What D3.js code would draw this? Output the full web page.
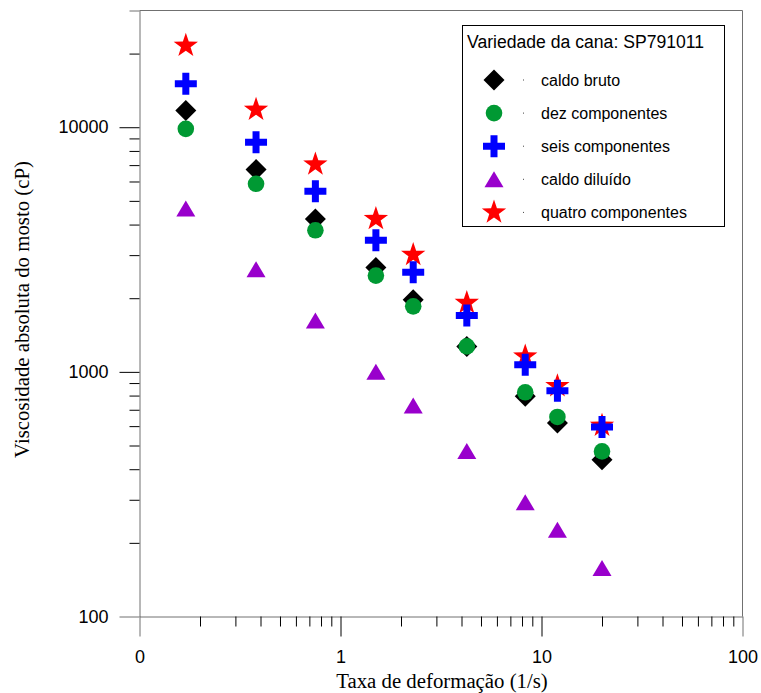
<!DOCTYPE html>
<html>
<head>
<meta charset="utf-8">
<script src="https://cdn.jsdelivr.net/npm/d3@7"></script>
<style>
  html, body { margin: 0; padding: 0; background: #fff; }
  svg { display: block; }
</style>
</head>
<body>
<svg id="chart" width="761" height="693"></svg>
<script>
// ---- data ----
const shearRates = [0.17, 0.38, 0.75, 1.5, 2.3, 4.25, 8.3, 12, 20];
const caldoBruto = [11700, 6710, 4220, 2670, 1970, 1271, 794, 618, 437];
const dezComponentes = [9850, 5870, 3790, 2475, 1853, 1271, 825, 654, 473];
const seisComponentes = [15050, 8685, 5470, 3450, 2553, 1698, 1070, 838, 595];
const caldoDiluido = [4650, 2627, 1623, 1002, 729, 475, 293, 226, 158];
const quatroComponentes = [21550, 11800, 7050, 4220, 3010, 1915, 1157, 875, 603];
const seriesNames = ["caldo bruto", "dez componentes", "seis componentes", "caldo diluído", "quatro componentes"];
const legendTitle = "Variedade da cana: SP791011";
const xMajorTicks = [0.1, 1, 10, 100];
const xTickLabels = ["0", "1", "10", "100"];
const yMajorTicks = [100, 1000, 10000];
const yTickLabels = ["100", "1000", "10000"];
const xTitle = "Taxa de deformação (1/s)";
const yTitle = "Viscosidade absoluta do mosto (cP)";

(function () {
// ---- setup ----
const svg = d3.select("#chart");
const pLeft = 139.5, pRight = 742.5, pTop = 10.5, pBottom = 616.5;
const x = d3.scaleLog().domain([0.1, 100]).range([pLeft, pRight]);
const y = d3.scaleLog().domain([100, 30000]).range([pBottom, pTop]);

const sansFont = "'Liberation Sans', Arial, sans-serif";
const serifFont = "'Liberation Serif', 'Times New Roman', serif";

function minorTicks(scale) {
  const [a, b] = scale.domain();
  const out = [];
  for (let d = a; d < b * 0.999; d *= 10) {
    for (let k = 2; k <= 9; k++) { const v = d * k; if (v <= b * 1.0001) out.push(v); }
  }
  return out;
}

const axisColor = "#707070";

// frame (top and right)
svg.append("line").attr("x1", pLeft).attr("x2", pRight).attr("y1", pTop).attr("y2", pTop)
  .attr("stroke", axisColor).attr("stroke-width", 1);
svg.append("line").attr("x1", pRight).attr("x2", pRight).attr("y1", pTop).attr("y2", pBottom)
  .attr("stroke", axisColor).attr("stroke-width", 1);

// x axis minor
svg.append("g").attr("transform", `translate(0,${pBottom})`)
  .call(d3.axisBottom(x).tickValues(minorTicks(x)).tickSize(10).tickSizeOuter(0).tickFormat(""))
  .call(g => g.select(".domain").attr("stroke", axisColor))
  .call(g => g.selectAll(".tick line").attr("stroke", "#000"));
// x axis major
svg.append("g").attr("transform", `translate(0,${pBottom})`)
  .call(d3.axisBottom(x).tickValues(xMajorTicks).tickSize(20).tickSizeOuter(0)
    .tickFormat((d, i) => xTickLabels[i]).tickPadding(14))
  .call(g => g.select(".domain").remove())
  .call(g => g.selectAll(".tick line").attr("stroke", (d, i) => (i === 0 || i === xMajorTicks.length - 1) ? axisColor : "#000"))
  .call(g => g.selectAll(".tick text").attr("font-family", sansFont).attr("font-size", 18).attr("fill", "#000"));

// y axis minor
svg.append("g").attr("transform", `translate(${pLeft},0)`)
  .call(d3.axisLeft(y).tickValues(minorTicks(y)).tickSize(10).tickSizeOuter(0).tickFormat(""))
  .call(g => g.select(".domain").attr("stroke", axisColor))
  .call(g => g.selectAll(".tick line").attr("stroke", (d) => d === 30000 ? axisColor : "#000"));
// y axis major
svg.append("g").attr("transform", `translate(${pLeft},0)`)
  .call(d3.axisLeft(y).tickValues(yMajorTicks).tickSize(20).tickSizeOuter(0)
    .tickFormat((d, i) => yTickLabels[i]).tickPadding(11))
  .call(g => g.select(".domain").remove())
  .call(g => g.selectAll(".tick line").attr("stroke", (d, i) => i === 0 ? axisColor : "#000"))
  .call(g => g.selectAll(".tick text").attr("font-family", sansFont).attr("font-size", 18).attr("fill", "#000"));

// axis titles
svg.append("text").attr("x", (pLeft + pRight) / 2 + 1).attr("y", 688)
  .attr("text-anchor", "middle").attr("font-family", serifFont).attr("font-size", 20.8)
  .attr("fill", "#000").text(xTitle);
svg.append("text").attr("transform", `translate(29,${(pTop + pBottom) / 2 - 4}) rotate(-90)`)
  .attr("text-anchor", "middle").attr("font-family", serifFont).attr("font-size", 20.8)
  .attr("fill", "#000").text(yTitle);

// ---- symbols ----
function starPath(R, rr) {
  const pts = [];
  for (let i = 0; i < 10; i++) {
    const a = -Math.PI / 2 + i * Math.PI / 5;
    const r = i % 2 === 0 ? R : rr;
    pts.push([r * Math.cos(a), r * Math.sin(a)]);
  }
  return "M" + pts.map(p => p[0].toFixed(2) + "," + p[1].toFixed(2)).join("L") + "Z";
}
const shapes = {
  diamond: "M0,-10.5L10.5,0L0,10.5L-10.5,0Z",
  circle: d3.symbol().type(d3.symbolCircle).size(Math.PI * 8.3 * 8.3)(),
  plus: "M-3.5,-11H3.5V-3.5H11V3.5H3.5V11H-3.5V3.5H-11V-3.5H-3.5Z",
  triangle: "M0,-8L9.5,8L-9.5,8Z",
  star: starPath(12.8, 5.0)
};

const seriesList = [
  { name: seriesNames[0], values: caldoBruto, shape: "diamond", color: "#000000" },
  { name: seriesNames[1], values: dezComponentes, shape: "circle", color: "#009933" },
  { name: seriesNames[2], values: seisComponentes, shape: "plus", color: "#0000ff" },
  { name: seriesNames[3], values: caldoDiluido, shape: "triangle", color: "#9900cc" },
  { name: seriesNames[4], values: quatroComponentes, shape: "star", color: "#ff0000" }
];

// draw order: star, plus, diamond, circle, triangle
const drawOrder = [4, 2, 0, 1, 3];
const plot = svg.append("g");
drawOrder.forEach(si => {
  const s = seriesList[si];
  plot.append("g").selectAll("path")
    .data(shearRates.map((xv, i) => ({ x: xv, y: s.values[i] })))
    .join("path")
    .attr("d", shapes[s.shape])
    .attr("transform", d => `translate(${x(d.x)},${y(d.y)})`)
    .attr("fill", s.color);
});

// ---- legend ----
const lg = svg.append("g");
lg.append("rect").attr("x", 462.5).attr("y", 25.5).attr("width", 262).attr("height", 201)
  .attr("fill", "#fff").attr("stroke", "#000").attr("stroke-width", 1);
lg.append("text").attr("x", 467).attr("y", 48).attr("font-family", sansFont).attr("font-size", 17.6)
  .attr("fill", "#000").text(legendTitle);
seriesList.forEach((s, i) => {
  const cy = 80 + i * 33.1;
  lg.append("path").attr("d", shapes[s.shape]).attr("transform", `translate(494,${cy})`).attr("fill", s.color);
  lg.append("rect").attr("x", 523).attr("y", cy - 0.5).attr("width", 1).attr("height", 1).attr("fill", "#444");
  lg.append("text").attr("x", 541).attr("y", cy + 6).attr("font-family", sansFont).attr("font-size", 16)
    .attr("fill", "#000").text(s.name);
});
})();
</script>
</body>
</html>
